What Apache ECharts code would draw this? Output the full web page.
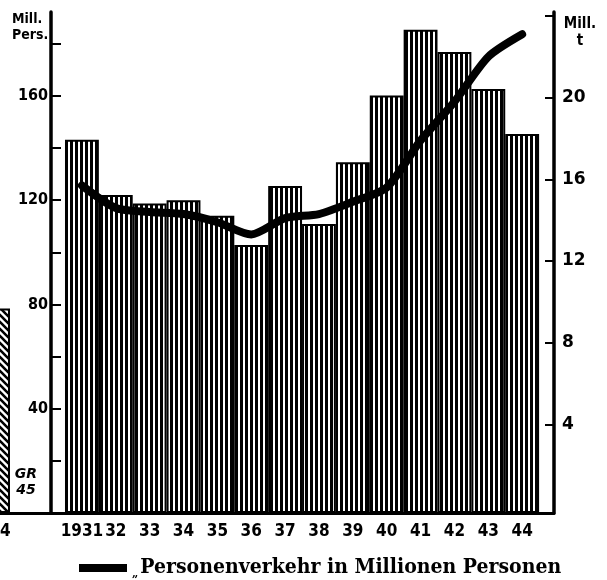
<!DOCTYPE html>
<html><head><meta charset="utf-8">
<script src="https://cdn.jsdelivr.net/npm/echarts@6/dist/echarts.min.js"></script>
<style>html,body{margin:0;padding:0;background:#fff}#c{width:607px;height:580px}</style>
</head><body><div id="c"></div>
<script>
// ---- data ----
const years = ['1931','32','33','34','35','36','37','38','39','40','41','42','43','44'];
const persons = [143.2,122,118.7,120,114,102.8,125.4,110.9,134.6,160.2,185.4,176.9,162.7,145.4];
const tonnage = [15.7,14.6,14.4,14.3,13.9,13.3,14.1,14.3,14.9,15.6,17.9,19.8,22.0,23.1];
const leftTicks = [20,40,60,80,100,120,140,160,180];
const leftLabels = [40,80,120,160];
const rightTicks = [4,8,12,16,20,24];
const rightLabels = [4,8,12,16,20];
const grLabel = '44';
const grValue = 78.5;
const legendName = 'Personenverkehr in Millionen Personen';

// ---- patterns ----
function vertPattern(){
  const c = document.createElement('canvas'); c.width = 5; c.height = 10;
  const g = c.getContext('2d');
  g.fillStyle = '#fff'; g.fillRect(0,0,5,10);
  g.fillStyle = '#000'; g.fillRect(0,0,3,10);
  return c;
}
function diagPattern(){
  const s = 7;
  const c = document.createElement('canvas'); c.width = s; c.height = s;
  const g = c.getContext('2d');
  g.fillStyle = '#fff'; g.fillRect(0,0,s,s);
  g.strokeStyle = '#000'; g.lineWidth = 2.6;
  g.beginPath();
  g.moveTo(-s,-s); g.lineTo(2*s,2*s);
  g.moveTo(-2*s,-s); g.lineTo(s,2*s);
  g.moveTo(0,-s); g.lineTo(3*s,2*s);
  g.stroke();
  return c;
}

const chart = echarts.init(document.getElementById('c'), null, {renderer:'canvas'});
const axisFont = 'DejaVu Sans Condensed';
chart.setOption({
  animation: false,
  backgroundColor: '#fff',
  grid: [
    {left: 51, right: 53, top: 12, bottom: 67, outerBoundsMode:'none', containLabel:false},
    {left: 0, width: 51, top: 12, bottom: 67, outerBoundsMode:'none', containLabel:false}
  ],
  xAxis: [
    {type:'value', gridIndex:0, min:-0.913, max:13.94,
     axisLine:{show:true, onZero:false, lineStyle:{color:'#000', width:3}},
     axisTick:{show:false}, splitLine:{show:false},
     axisLabel:{customValues: years.map((_,i)=>i), formatter: v => years[v] || '',
       color:'#000', fontFamily: axisFont, fontWeight:'bold', fontSize:17, margin:10}},
    {type:'value', gridIndex:1, min:0.1875, max:1.78,
     axisLine:{show:true, onZero:false, lineStyle:{color:'#000', width:3}},
     axisTick:{show:false}, splitLine:{show:false},
     axisLabel:{customValues:[0.1875], formatter: () => grLabel, hideOverlap:false,
       color:'#000', fontFamily: axisFont, fontWeight:'bold', fontSize:17, margin:10}}
  ],
  yAxis: [
    {type:'value', gridIndex:0, position:'left', min:0, max:192.2,
     axisLine:{show:true, onZero:false, lineStyle:{color:'#000', width:3.5}},
     axisTick:{show:true, inside:true, length:10, customValues:leftTicks, lineStyle:{color:'#000', width:2}},
     axisLabel:{customValues:leftLabels, color:'#000', fontFamily:axisFont, fontWeight:'bold', fontSize:16, margin:3},
     splitLine:{show:false}},
    {type:'value', gridIndex:0, position:'right', min:-0.333, max:24.19,
     axisLine:{show:true, onZero:false, lineStyle:{color:'#000', width:3.5}},
     axisTick:{show:true, inside:true, length:9, customValues:rightTicks, lineStyle:{color:'#000', width:2}},
     axisLabel:{customValues:rightLabels, color:'#000', fontFamily:'DejaVu Sans', fontWeight:'bold', fontSize:17, margin:8},
     splitLine:{show:false}},
    {type:'value', gridIndex:1, min:0, max:192.2, show:false}
  ],
  legend: {
    left: 79, top: 557, padding:0, icon:'rect', itemWidth:48, itemHeight:8,
    data:[{name: legendName, icon:'rect', itemStyle:{color:'#000', borderWidth:0}}],
    formatter: n => '{q|\u201E}{t|' + n + '}',
    textStyle:{color:'#000', rich:{
      q:{fontSize:11, fontFamily:'DejaVu Serif', fontWeight:'bold', color:'#000', verticalAlign:'bottom', lineHeight:24, padding:[12,2,0,0]},
      t:{fontSize:21, fontFamily:'DejaVu Serif Condensed', fontWeight:'bold', color:'#000', lineHeight:24}
    }}
  },
  graphic: [
    {type:'text', z:100, x:12, y:11, style:{text:'Mill.\nPers.', font:'bold 14px "DejaVu Sans Condensed"', lineHeight:16, fill:'#000'}},
    {type:'text', z:100, x:580, y:16, style:{text:'Mill.\nt', font:'bold 15px "DejaVu Sans Condensed"', lineHeight:17, fill:'#000', align:'center'}},
    {type:'text', z:100, x:26, y:466, style:{text:'GR\n45', font:'italic bold 14px "DejaVu Sans"', lineHeight:16, fill:'#000', align:'center'}}
  ],
  series: [
    {type:'bar', name: legendName, xAxisIndex:0, yAxisIndex:0, barWidth:33.86,
     data: persons.map((v,i)=>[i,v]),
     itemStyle:{color:{image: vertPattern(), repeat:'repeat'}, borderColor:'#000', borderWidth:2}},
    {type:'line', name:'tonnage', xAxisIndex:0, yAxisIndex:1, smooth:0.25, symbol:'none', z:5,
     data: tonnage.map((v,i)=>[i,v]),
     lineStyle:{color:'#000', width:8, cap:'round', join:'round'}},
    {type:'bar', name:'GR', xAxisIndex:1, yAxisIndex:2, barWidth:32, clip:true,
     data:[[0, grValue]],
     itemStyle:{color:{image: diagPattern(), repeat:'repeat'}, borderColor:'#000', borderWidth:2}}
  ]
});
</script></body></html>
